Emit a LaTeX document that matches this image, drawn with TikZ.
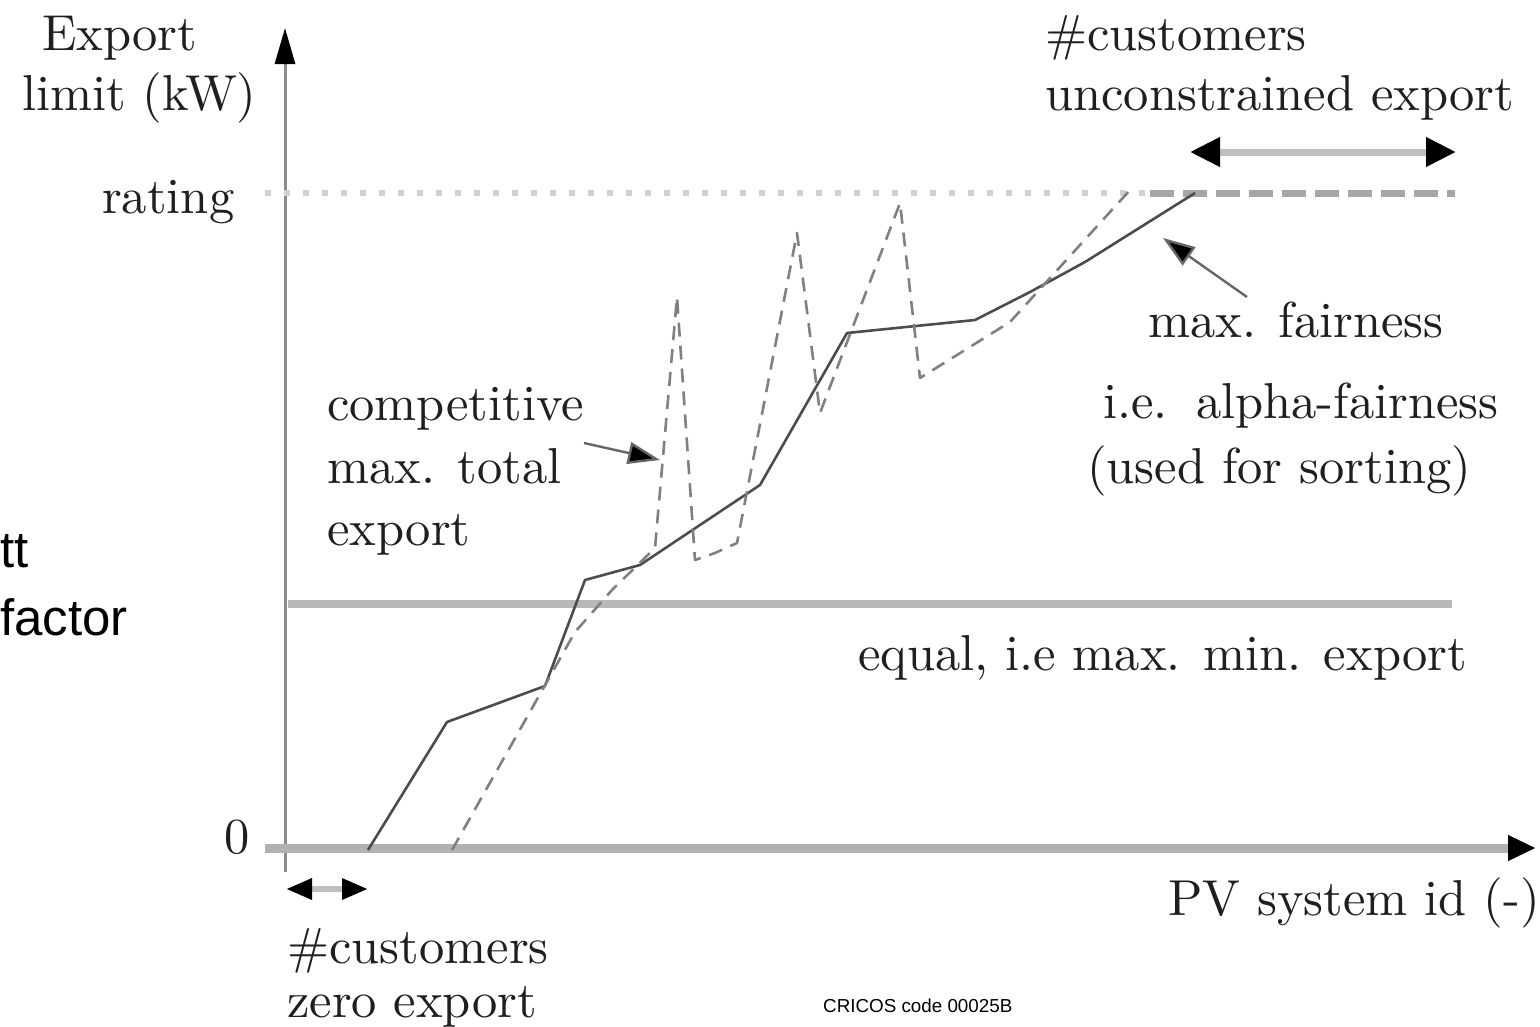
\documentclass[tikz,border=0pt]{standalone}
\usepackage{fontspec}
\newfontfamily\arialfont{Liberation Sans}
\newfontfamily\lmten{lmroman10-regular}[Extension=.otf]
\usetikzlibrary{arrows.meta}
\begin{document}
\begin{tikzpicture}[x=1pt,y=-1pt,
  lbl/.style={anchor=base west,inner sep=0pt,text=black!88,font=\lmten\fontsize{50.5}{60}\selectfont},
  sanslbl/.style={anchor=base west,inner sep=0pt,text=black,font=\arialfont\fontsize{51}{60}\selectfont},
  fair/.style={black!70,line width=2.6pt,line join=round},
  comp/.style={black!50,line width=2.6pt,dash pattern=on 14pt off 9pt,line join=round},
  ptr/.style={black!60,line width=2.4pt,-{Triangle[length=32pt,width=22pt,fill=black]}}]
\useasboundingbox (0,0) rectangle (1540,1026);

% axes
\coordinate (yb) at (285,872);
\coordinate (yt) at (285,28);
\coordinate (xl) at (265,848);
\coordinate (xr) at (1536,848);
\draw[black!45,line width=3pt,-{Triangle[length=36pt,width=20pt,color=black]}] (yb) -- (yt);
\draw[black!30,line width=9pt,-{Triangle[length=28pt,width=24pt,color=black]}] (xl) -- (xr);

% rating line
\coordinate (r0) at (265,193);
\coordinate (r1) at (1150,193);
\coordinate (r2) at (1195,193);
\coordinate (r3) at (1455,193);
\draw[black!18,line width=6pt,dash pattern=on 6pt off 13pt] (r0) -- (r1);
\draw[black!35,line width=7pt,dash pattern=on 24pt off 9pt] (r1) -- (r3);

% equal line
\coordinate (e0) at (288,604);
\coordinate (e1) at (1452,604);
\draw[black!28,line width=8pt] (e0) -- (e1);

% top double arrow
\coordinate (ua) at (1190,152);
\coordinate (ub) at (1456,152);
\draw[black!25,line width=7pt,{Triangle[length=30pt,width=28pt,color=black]}-{Triangle[length=30pt,width=28pt,color=black]}] (ua) -- (ub);

% bottom double arrow
\coordinate (za) at (286,889);
\coordinate (zb) at (368,889);
\draw[black!25,line width=6pt,{Triangle[length=26pt,width=20pt,color=black]}-{Triangle[length=26pt,width=20pt,color=black]}] (za) -- (zb);

% max fairness curve
\draw[fair] (368,850) -- (447,722) -- (545,686) -- (585,580) -- (640,565)
  -- (760,485) -- (847,333) -- (975,320) -- (1030,292) -- (1085,262) -- (r2);

% competitive curve
\draw[comp] (452,850) -- (575,632) -- (612,590) -- (655,548) -- (677,297)
  -- (695,560) -- (715,553) -- (737,543) -- (797,233) -- (820,413)
  -- (900,203) -- (920,378) -- (1010,322) -- (1130,190);

% labels
\node[lbl] (t1) at (42,50) {Export};
\node[lbl] (t2) at (22,110) {limit (kW)};
\node[lbl] (t3) at (102,213) {rating};
\node[lbl] (t4) at (224,853) {0};
\node[lbl] (t5) at (1045,50) {\#customers};
\node[lbl] (t6) at (1045,110) {unconstrained export};
\node[lbl] (t7) at (1148,337) {max. fairness};
\node[lbl] (t8) at (1103,418) {i.e.\hspace{6pt} alpha-fairness};
\node[lbl] (t9) at (1087,483) {(used for sorting)};
\node[lbl] (t10) at (327,420) {competitive};
\node[lbl] (t11) at (327,483) {max. total};
\node[lbl] (t12) at (327,545) {export};
\node[lbl] (t13) at (858,670) {equal, i.e max. min. export};
\node[lbl] (t14) at (1168,915) {PV system id (-)};
\node[lbl] (t15) at (287,963) {\#customers};
\node[lbl] (t16) at (287,1017) {zero export};

% pointer arrows
\coordinate (ca) at (584,443);
\coordinate (cb) at (660,460);
\draw[ptr] (ca) -- (cb);
\coordinate (fa) at (1247,297);
\coordinate (fb) at (1163,238);
\draw[ptr] (fa) -- (fb);

% overlay slide text
\node[sanslbl] (s1) at (0,567) {tt};
\node[sanslbl] (s2) at (0,635) {factor};
\node[anchor=base west,inner sep=0pt,font=\arialfont\fontsize{18.8}{22}\selectfont] (cr) at (823,1012) {CRICOS code 00025B};
\end{tikzpicture}
\end{document}
